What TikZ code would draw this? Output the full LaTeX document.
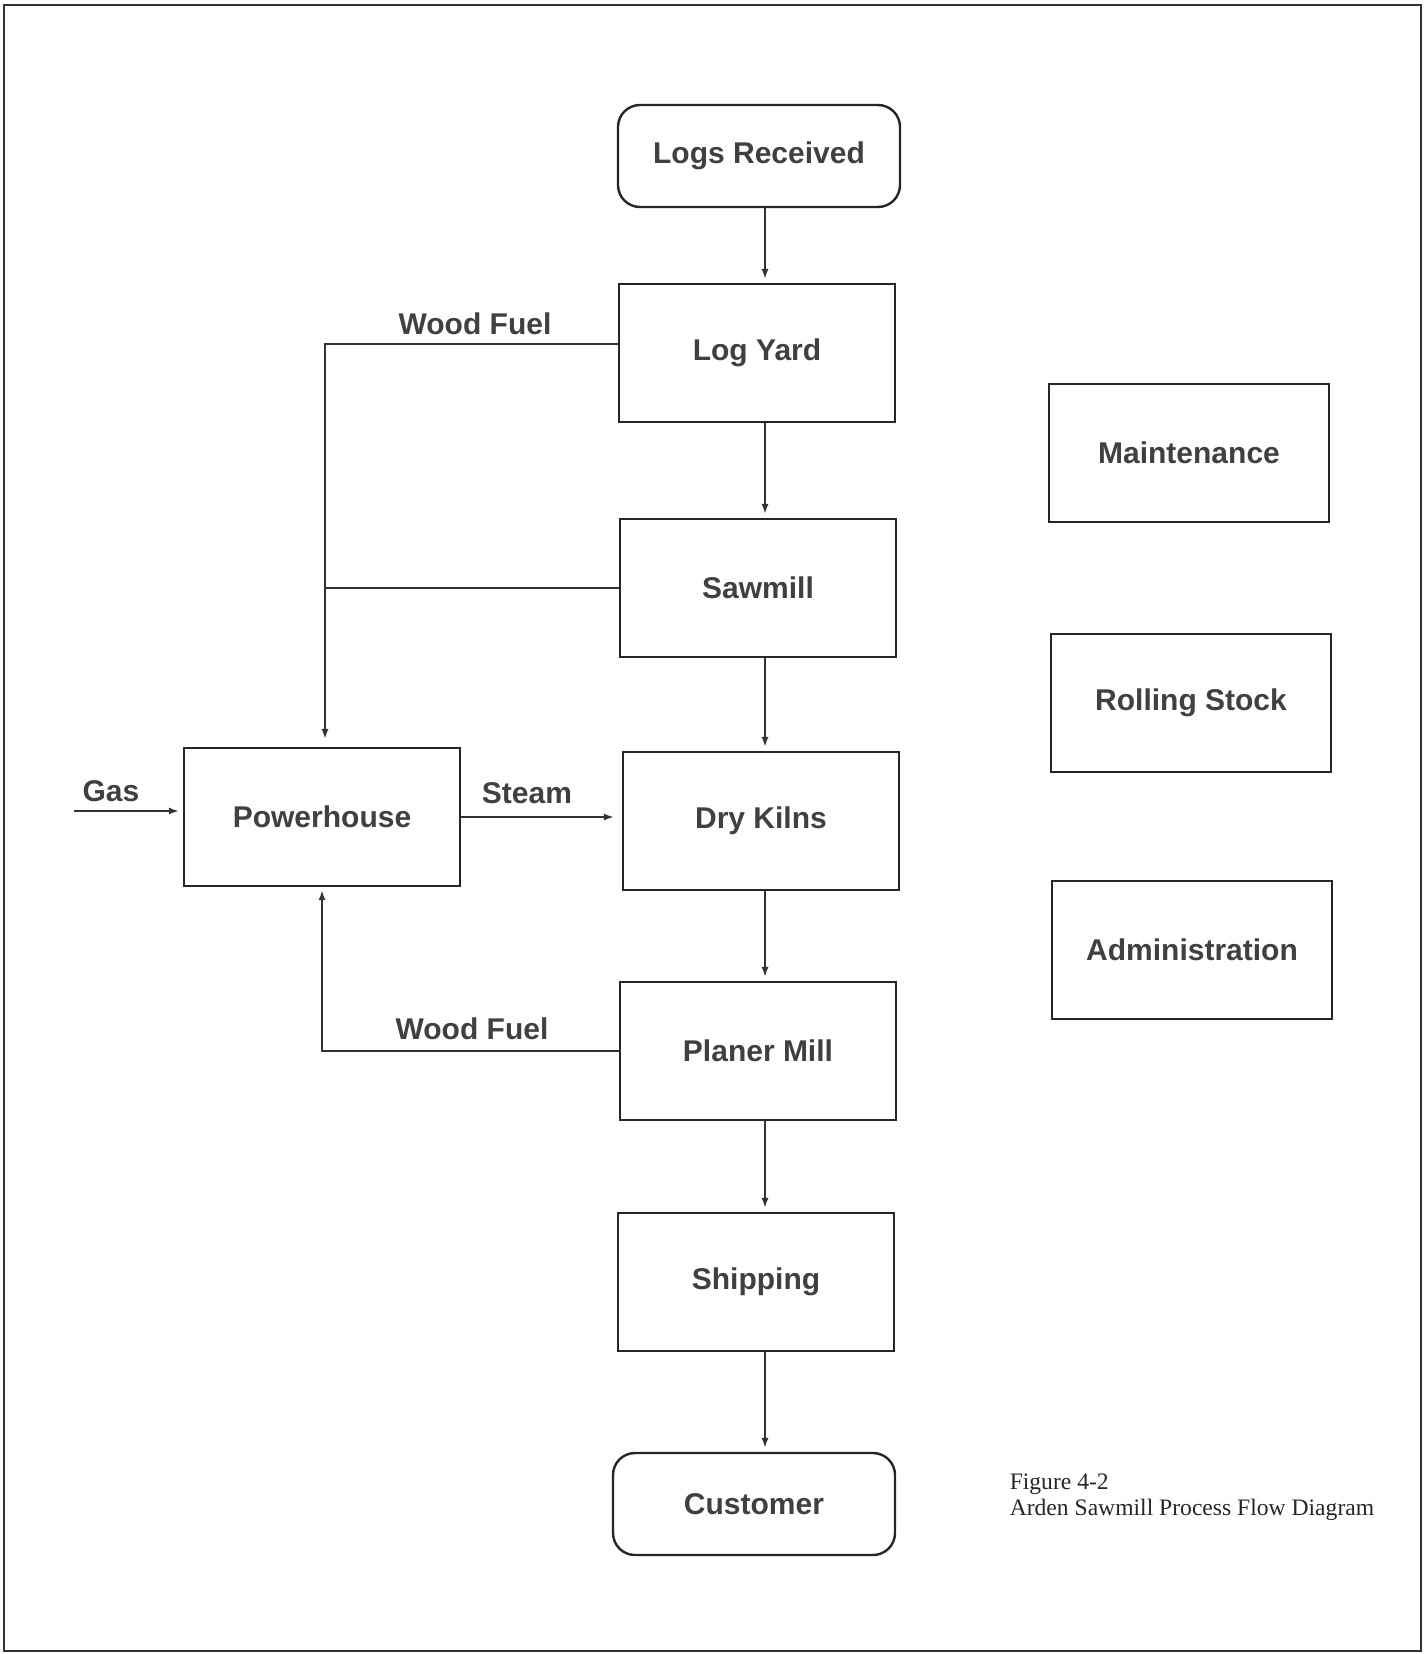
\documentclass[tikz,border=0pt]{standalone}
\usepackage{fontspec}
\setmainfont{Liberation Sans}
\newfontfamily\capfont{Liberation Serif}
\usetikzlibrary{arrows.meta}

\tikzset{every picture/.style={line width=0.75pt}}
\tikzset{
  box/.style={draw=black!85, line width=1.2pt, minimum width=138pt, minimum height=69pt, font=\fontsize{15}{18}\selectfont\bfseries, text=black!75},
  sidebox/.style={box, minimum width=140pt},
  endbox/.style={box, rounded corners=11pt, minimum width=141pt, minimum height=51pt},
  lbl/.style={font=\fontsize{15}{18}\selectfont\bfseries, text=black!75},
  flow/.style={draw=black!80, line width=0.9pt, -{Latex[length=5pt,width=3.6pt]}, shorten >=2pt},
  feed/.style={draw=black!80, line width=0.9pt}
}

\begin{document}
\begin{tikzpicture}[x=0.5pt,y=0.5pt,yscale=-1,xscale=1]
\path[use as bounding box] (0,0) rectangle (1427,1654);

%Outer frame
\draw [draw=black!80, line width=1.1pt] (4,5) rectangle (1421,1651);

%Main column
\node [endbox] (logs) at (759,156) {Logs Received};
\node [box] (yard) at (757,353) {Log Yard};
\node [box] (saw) at (758,588) {Sawmill};
\node [box] (kilns) at (761,821) {Dry Kilns};
\node [box] (planer) at (758,1051) {Planer Mill};
\node [box] (ship) at (756,1282) {Shipping};
\node [endbox] (cust) at (754,1504) {Customer};

%Side boxes
\node [sidebox] (maint) at (1189,453) {Maintenance};
\node [sidebox] (stock) at (1191,703) {Rolling Stock};
\node [sidebox] (admin) at (1192,950) {Administration};

\node [box] (pw) at (322,817) {Powerhouse};

%Straight Lines
\coordinate (col) at (765,0);
\draw [flow] (logs.south -| col) -- (yard.north -| col);
\draw [flow] (yard.south -| col) -- (saw.north -| col);
\draw [flow] (saw.south -| col) -- (kilns.north -| col);
\draw [flow] (kilns.south -| col) -- (planer.north -| col);
\draw [flow] (planer.south -| col) -- (ship.north -| col);
\draw [flow] (ship.south -| col) -- (cust.north -| col);

%Wood fuel to powerhouse
\coordinate (fuelA) at (325,344);
\draw [flow, shorten >=4pt] (fuelA -| yard.west) -- (fuelA) -- (fuelA |- pw.north);
\draw [feed] (saw.west) -- (saw.west -| fuelA);
\draw [flow, shorten >=1.5pt] (planer.west) -| (pw.south);

%Gas and steam
\coordinate (gasin) at (74,811);
\draw [flow] (gasin) -- (gasin -| pw.west);
\draw [flow, shorten >=4pt] (pw.east) -- (pw.east -| kilns.west);

\node [lbl] (fuel1) at (475,324) {Wood Fuel};
\node [lbl] (fuel2) at (472,1029) {Wood Fuel};
\node [lbl] (gas) at (111,791) {Gas};
\node [lbl] (steam) at (527,793) {Steam};

%Caption
\node [anchor=north west, align=left, inner sep=0pt, font=\capfont\fontsize{11.8}{13}\selectfont, text=black!85] (cap) at (1009,1473) {Figure 4-2\\Arden Sawmill Process Flow Diagram};

\end{tikzpicture}
\end{document}
